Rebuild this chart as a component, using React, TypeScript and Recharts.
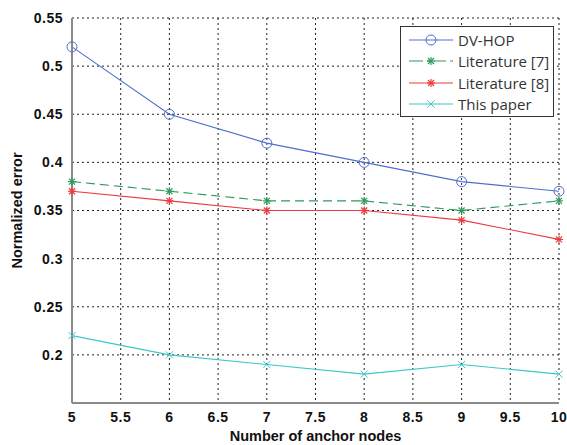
import React from 'react';
import { LineChart, Line, XAxis, YAxis, CartesianGrid, Label } from 'recharts';

const anchorNodes = [5, 6, 7, 8, 9, 10];
const dvHop = [0.52, 0.45, 0.42, 0.4, 0.38, 0.37];
const literature7 = [0.38, 0.37, 0.36, 0.36, 0.35, 0.36];
const literature8 = [0.37, 0.36, 0.35, 0.35, 0.34, 0.32];
const thisPaper = [0.22, 0.2, 0.19, 0.18, 0.19, 0.18];

const xTicks = [5, 5.5, 6, 6.5, 7, 7.5, 8, 8.5, 9, 9.5, 10];
const yTicks = [0.15, 0.2, 0.25, 0.3, 0.35, 0.4, 0.45, 0.5, 0.55];

const data = anchorNodes.map((x, i) => ({
  x,
  dvHop: dvHop[i],
  lit7: literature7[i],
  lit8: literature8[i],
  paper: thisPaper[i],
}));

type Marker = 'circle' | 'star' | 'x';

const series: { key: string; name: string; color: string; dash?: string; marker: Marker }[] = [
  { key: 'dvHop', name: 'DV-HOP', color: '#4f6fcf', marker: 'circle' },
  { key: 'lit7', name: 'Literature [7]', color: '#2f9a5c', dash: '9 5', marker: 'star' },
  { key: 'lit8', name: 'Literature [8]', color: '#ec3a3f', marker: 'star' },
  { key: 'paper', name: 'This paper', color: '#3ec7c9', marker: 'x' },
];

const MarkerShape = ({ cx, cy, color, marker }: { cx: number; cy: number; color: string; marker: Marker }) => {
  if (cx == null || cy == null) return null;
  if (marker === 'circle') {
    return <circle cx={cx} cy={cy} r={5} fill="none" stroke={color} strokeWidth={1} />;
  }
  if (marker === 'star') {
    const s = 4;
    const d = 3;
    return (
      <g stroke={color} strokeWidth={1.2}>
        <line x1={cx - s} y1={cy} x2={cx + s} y2={cy} />
        <line x1={cx} y1={cy - s} x2={cx} y2={cy + s} />
        <line x1={cx - d} y1={cy - d} x2={cx + d} y2={cy + d} />
        <line x1={cx - d} y1={cy + d} x2={cx + d} y2={cy - d} />
      </g>
    );
  }
  const d = 3.5;
  return (
    <g stroke={color} strokeWidth={1}>
      <line x1={cx - d} y1={cy - d} x2={cx + d} y2={cy + d} />
      <line x1={cx - d} y1={cy + d} x2={cx + d} y2={cy - d} />
    </g>
  );
};

const font = 'Liberation Sans, Arial, sans-serif';
const tickStyle = { fontFamily: font, fontWeight: 'bold', fontSize: 14, fill: '#111', letterSpacing: 0.5 };
const titleStyle = { fontFamily: font, fontWeight: 'bold', fontSize: 14.5, fill: '#111' };

const fmtY = (v: number) => (v === 0.15 ? '' : String(v));

export default function App() {
  return (
    <div style={{ position: 'absolute', left: 0, top: 0, width: 567, height: 445, background: '#fff' }}>
      <LineChart width={567} height={445} data={data} margin={{ top: 18, right: 8, left: 0, bottom: 0 }}>
        <CartesianGrid stroke="#222" strokeDasharray="2 3" strokeWidth={1} verticalValues={xTicks} horizontalValues={yTicks} />
        <XAxis
          dataKey="x"
          type="number"
          domain={[5, 10]}
          ticks={xTicks}
          height={42}
          tickLine={false}
          axisLine={{ stroke: '#8a8a8a', strokeWidth: 2 }}
          tick={tickStyle}
          tickMargin={3}
          interval={0}
        >
          <Label value="Number of anchor nodes" position="insideBottom" offset={4} style={titleStyle} />
        </XAxis>
        <XAxis
          xAxisId="top"
          dataKey="x"
          type="number"
          orientation="top"
          domain={[5, 10]}
          ticks={xTicks}
          height={0}
          mirror
          tickSize={5}
          tickFormatter={() => ''}
          tickLine={{ stroke: '#333' }}
          axisLine={{ stroke: '#444', strokeWidth: 1.5 }}
        />
        <YAxis
          type="number"
          domain={[0.15, 0.55]}
          ticks={yTicks}
          width={72}
          tickLine={false}
          axisLine={{ stroke: '#8a8a8a', strokeWidth: 2 }}
          tick={tickStyle}
          tickFormatter={fmtY}
          tickMargin={3}
          interval={0}
        >
          <Label
            value="Normalized error"
            angle={-90}
            position="insideLeft"
            offset={17}
            style={{ ...titleStyle, textAnchor: 'middle' }}
          />
        </YAxis>
        <YAxis
          yAxisId="right"
          orientation="right"
          type="number"
          domain={[0.15, 0.55]}
          ticks={yTicks}
          width={0}
          mirror
          tickSize={5}
          tickFormatter={() => ''}
          tickLine={{ stroke: '#333' }}
          axisLine={{ stroke: '#8a8a8a', strokeWidth: 2 }}
        />
        {series.map((s) => (
          <Line
            key={s.key}
            dataKey={s.key}
            name={s.name}
            type="linear"
            stroke={s.color}
            strokeWidth={1.1}
            strokeDasharray={s.dash}
            isAnimationActive={false}
            dot={(p: any) => <MarkerShape key={`${s.key}-${p.index}`} cx={p.cx} cy={p.cy} color={s.color} marker={s.marker} />}
            activeDot={false}
          />
        ))}
      </LineChart>
      <div
        style={{
          position: 'absolute',
          left: 400,
          top: 26,
          width: 154,
          height: 91,
          border: '1px solid #333',
          background: '#fff',
          boxSizing: 'border-box',
          paddingTop: 2,
        }}
      >
        {series.map((s) => (
          <div key={s.key} style={{ display: 'flex', alignItems: 'center', height: 21.5 }}>
            <svg width={57} height={14} style={{ flex: 'none' }}>
              <line x1={8} y1={7} x2={52} y2={7} stroke={s.color} strokeWidth={1.2} strokeDasharray={s.dash ? '14 4 3 4 12 4' : undefined} />
              <MarkerShape cx={30} cy={7} color={s.color} marker={s.marker} />
            </svg>
            <span style={{ fontFamily: 'Open Sans, sans-serif', fontSize: 15, color: '#333', whiteSpace: 'nowrap' }}>{s.name}</span>
          </div>
        ))}
      </div>
    </div>
  );
}
